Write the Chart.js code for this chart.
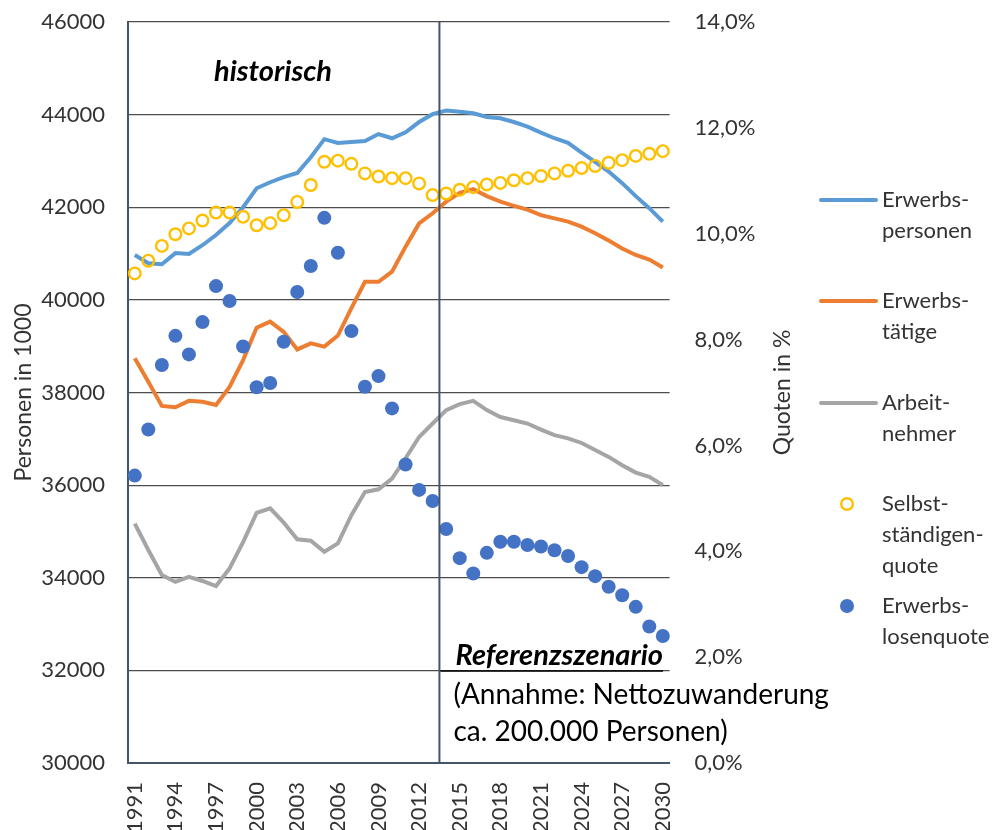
<!DOCTYPE html>
<html lang="de">
<head>
<meta charset="utf-8">
<title>Erwerbspersonen, Erwerbstätige und Arbeitnehmer 1991–2030</title>
<script src="https://cdn.jsdelivr.net/npm/chart.js@4.4.0/dist/chart.umd.min.js"></script>
<style>
    html, body { margin: 0; padding: 0; background: #fff; }
</style>
</head>
<body>
<canvas id="chart" width="999" height="830"></canvas>
<script>
// === DATA ===
const years = ['1991', '1992', '1993', '1994', '1995', '1996', '1997', '1998', '1999', '2000',
               '2001', '2002', '2003', '2004', '2005', '2006', '2007', '2008', '2009', '2010',
               '2011', '2012', '2013', '2014', '2015', '2016', '2017', '2018', '2019', '2020',
               '2021', '2022', '2023', '2024', '2025', '2026', '2027', '2028', '2029', '2030'];

// Personen in 1000 (linke Achse)
const erwerbspersonen = [40970, 40790, 40770, 41010, 40990, 41180, 41400, 41660, 42000, 42410,
                         42540, 42650, 42740, 43080, 43470, 43390, 43410, 43430, 43580, 43490,
                         43620, 43840, 44010, 44090, 44060, 44030, 43950, 43920, 43840, 43740,
                         43610, 43490, 43390, 43180, 42980, 42770, 42520, 42240, 41980, 41690];
const erwerbstaetige = [38740, 38230, 37710, 37680, 37820, 37800, 37730, 38120, 38700, 39400,
                        39530, 39310, 38930, 39060, 38990, 39230, 39820, 40390, 40390, 40610,
                        41150, 41650, 41870, 42120, 42310, 42390, 42240, 42120, 42030, 41950,
                        41830, 41760, 41690, 41580, 41440, 41280, 41110, 40970, 40870, 40700];
const arbeitnehmer = [35170, 34600, 34060, 33910, 34020, 33930, 33820, 34200, 34770, 35400,
                      35500, 35190, 34830, 34800, 34560, 34740, 35350, 35850, 35910, 36140,
                      36580, 37040, 37330, 37620, 37750, 37820, 37620, 37470, 37400, 37330,
                      37200, 37080, 37010, 36910, 36760, 36610, 36430, 36270, 36180, 36000];

// Quoten in % (rechte Achse)
const selbststaendigenquote = [9.25, 9.49, 9.77, 9.99, 10.10, 10.25, 10.40, 10.40, 10.32, 10.16,
                               10.20, 10.35, 10.60, 10.92, 11.36, 11.38, 11.32, 11.14, 11.08, 11.05,
                               11.05, 10.95, 10.73, 10.76, 10.83, 10.88, 10.93, 10.96, 11.01, 11.05,
                               11.09, 11.14, 11.19, 11.24, 11.28, 11.34, 11.39, 11.47, 11.51, 11.56];
const erwerbslosenquote = [5.43, 6.30, 7.52, 8.07, 7.72, 8.33, 9.01, 8.73, 7.87, 7.10,
                           7.18, 7.96, 8.90, 9.39, 10.30, 9.64, 8.16, 7.11, 7.31, 6.70,
                           5.64, 5.16, 4.95, 4.42, 3.87, 3.58, 3.97, 4.18, 4.18, 4.12,
                           4.09, 4.02, 3.91, 3.70, 3.53, 3.33, 3.17, 2.95, 2.58, 2.40];

const legendLabels = [
    ['Erwerbs-', 'personen'],
    ['Erwerbs-', 'tätige'],
    ['Arbeit-', 'nehmer'],
    ['Selbst-', 'ständigen-', 'quote'],
    ['Erwerbs-', 'losenquote']
];

const lastHistoricalYear = '2013';

// === STYLE ===
const COLORS = {
    blue: '#5B9BD5',
    orange: '#ED7D31',
    gray: '#A5A5A5',
    gold: '#FFC000',
    dot: '#4472C4',
    axis: '#44546A',
    grid: '#4D4D4D',
    text: '#333333'
};
const FONT = 'Lato, "Open Sans", sans-serif';

// x pixel of the border between historical data and projection
function splitX(chart) {
    const x = chart.scales.x;
    const i = years.indexOf(lastHistoricalYear);
    return (x.getPixelForValue(i) + x.getPixelForValue(i + 1)) / 2;
}

// fixed axis widths, no extra room above/below for tick padding
function fixWidth(width) {
    return s => {
        s.width = width;
        s.paddingTop = 0;
        s.paddingBottom = 0;
    };
}

// === OVERLAY: divider, notes, axis titles, legend ===
const overlay = {
    id: 'overlay',
    afterDatasetsDraw(chart) {
        const { ctx, chartArea } = chart;
        const xd = splitX(chart);
        ctx.save();
        ctx.strokeStyle = COLORS.axis;
        ctx.lineWidth = 2;
        ctx.beginPath();
        ctx.moveTo(xd, chartArea.top);
        ctx.lineTo(xd, chartArea.bottom);
        ctx.stroke();
        ctx.restore();
    },
    afterDraw(chart) {
        const { ctx, chartArea } = chart;
        const xd = splitX(chart);
        ctx.save();

        // notes
        ctx.fillStyle = '#000';
        ctx.textBaseline = 'middle';
        ctx.font = 'italic bold 29px ' + FONT;
        ctx.textAlign = 'center';
        ctx.fillText('historisch', 273, 72);

        ctx.textAlign = 'left';
        ctx.fillText('Referenzszenario', xd + 16, 656);
        const w = ctx.measureText('Referenzszenario').width;
        ctx.strokeStyle = '#000';
        ctx.lineWidth = 1.5;
        ctx.beginPath();
        ctx.moveTo(xd + 1, 671);
        ctx.lineTo(xd + 16 + w, 671);
        ctx.stroke();

        ctx.font = '28px ' + FONT;
        ctx.fillText('(Annahme: Nettozuwanderung', xd + 14, 695);
        ctx.fillText('ca. 200.000 Personen)', xd + 14, 732);

        // axis titles
        const midY = (chartArea.top + chartArea.bottom) / 2;
        ctx.fillStyle = COLORS.text;
        ctx.font = '23px ' + FONT;
        ctx.textAlign = 'center';
        ctx.save();
        ctx.translate(24, midY);
        ctx.rotate(-Math.PI / 2);
        ctx.fillText('Personen in 1000', 0, 0);
        ctx.restore();
        ctx.save();
        ctx.translate(783, midY);
        ctx.rotate(-Math.PI / 2);
        ctx.fillText('Quoten in %', 0, 0);
        ctx.restore();

        // legend
        const rows = [200, 301, 403, 504, 606];
        ctx.font = '22px ' + FONT;
        ctx.textAlign = 'left';
        chart.data.datasets.forEach((ds, k) => {
            const y = rows[k];
            if (ds.showLine === false) {
                ctx.beginPath();
                ctx.arc(847, y, ds.pointRadius, 0, Math.PI * 2);
                if (ds.pointBackgroundColor !== 'transparent') {
                    ctx.fillStyle = ds.pointBackgroundColor;
                    ctx.fill();
                }
                if (ds.pointBorderWidth > 0) {
                    ctx.lineWidth = ds.pointBorderWidth;
                    ctx.strokeStyle = ds.pointBorderColor;
                    ctx.stroke();
                }
            } else {
                ctx.strokeStyle = ds.borderColor;
                ctx.lineWidth = 4;
                ctx.lineCap = 'round';
                ctx.beginPath();
                ctx.moveTo(821, y);
                ctx.lineTo(876, y);
                ctx.stroke();
            }
            ctx.fillStyle = COLORS.text;
            legendLabels[k].forEach((line, j) => ctx.fillText(line, 882, y + j * 31));
        });
        ctx.restore();
    }
};

// === CHART ===
new Chart(document.getElementById('chart'), {
    type: 'line',
    data: {
        labels: years,
        datasets: [
            {
                label: 'Erwerbspersonen',
                data: erwerbspersonen,
                yAxisID: 'y',
                borderColor: COLORS.blue,
                borderWidth: 4,
                pointRadius: 0,
                order: 5
            },
            {
                label: 'Erwerbstätige',
                data: erwerbstaetige,
                yAxisID: 'y',
                borderColor: COLORS.orange,
                borderWidth: 4,
                pointRadius: 0,
                order: 4
            },
            {
                label: 'Arbeitnehmer',
                data: arbeitnehmer,
                yAxisID: 'y',
                borderColor: COLORS.gray,
                borderWidth: 4,
                pointRadius: 0,
                order: 3
            },
            {
                label: 'Selbstständigenquote',
                data: selbststaendigenquote,
                yAxisID: 'y1',
                showLine: false,
                pointRadius: 5.8,
                pointBorderWidth: 2.4,
                pointBorderColor: COLORS.gold,
                pointBackgroundColor: 'transparent',
                order: 2
            },
            {
                label: 'Erwerbslosenquote',
                data: erwerbslosenquote,
                yAxisID: 'y1',
                showLine: false,
                pointRadius: 7,
                pointBorderWidth: 0,
                pointBorderColor: COLORS.dot,
                pointBackgroundColor: COLORS.dot,
                order: 1
            }
        ]
    },
    options: {
        responsive: false,
        animation: false,
        layout: { padding: { top: 22, left: 0, right: 0, bottom: 0 } },
        plugins: {
            legend: { display: false },
            tooltip: { enabled: false }
        },
        scales: {
            x: {
                offset: true,
                grid: { display: false, drawTicks: false },
                border: { display: true, color: COLORS.axis, width: 2 },
                ticks: {
                    autoSkip: false,
                    maxRotation: 90,
                    minRotation: 90,
                    padding: 19,
                    color: COLORS.text,
                    font: { family: FONT, size: 22 },
                    callback: (v, i) => (i % 3 === 0 ? years[i] : '')
                },
                afterFit: s => { s.height = 67; }
            },
            y: {
                position: 'left',
                min: 30000,
                max: 46000,
                grid: { color: COLORS.grid, lineWidth: 1.2, drawTicks: false },
                border: { display: true, color: COLORS.axis, width: 2 },
                ticks: {
                    stepSize: 2000,
                    padding: 23,
                    color: COLORS.text,
                    font: { family: FONT, size: 22 },
                    callback: v => String(v)
                },
                afterFit: fixWidth(128)
            },
            y1: {
                position: 'right',
                min: 0,
                max: 14,
                grid: { display: false, drawTicks: false },
                border: { display: false },
                ticks: {
                    stepSize: 2,
                    padding: 25,
                    color: COLORS.text,
                    font: { family: FONT, size: 22 },
                    callback: v => v.toFixed(1).replace('.', ',') + '%'
                },
                afterFit: fixWidth(329.4)
            }
        }
    },
    plugins: [overlay]
});
</script>
</body>
</html>
